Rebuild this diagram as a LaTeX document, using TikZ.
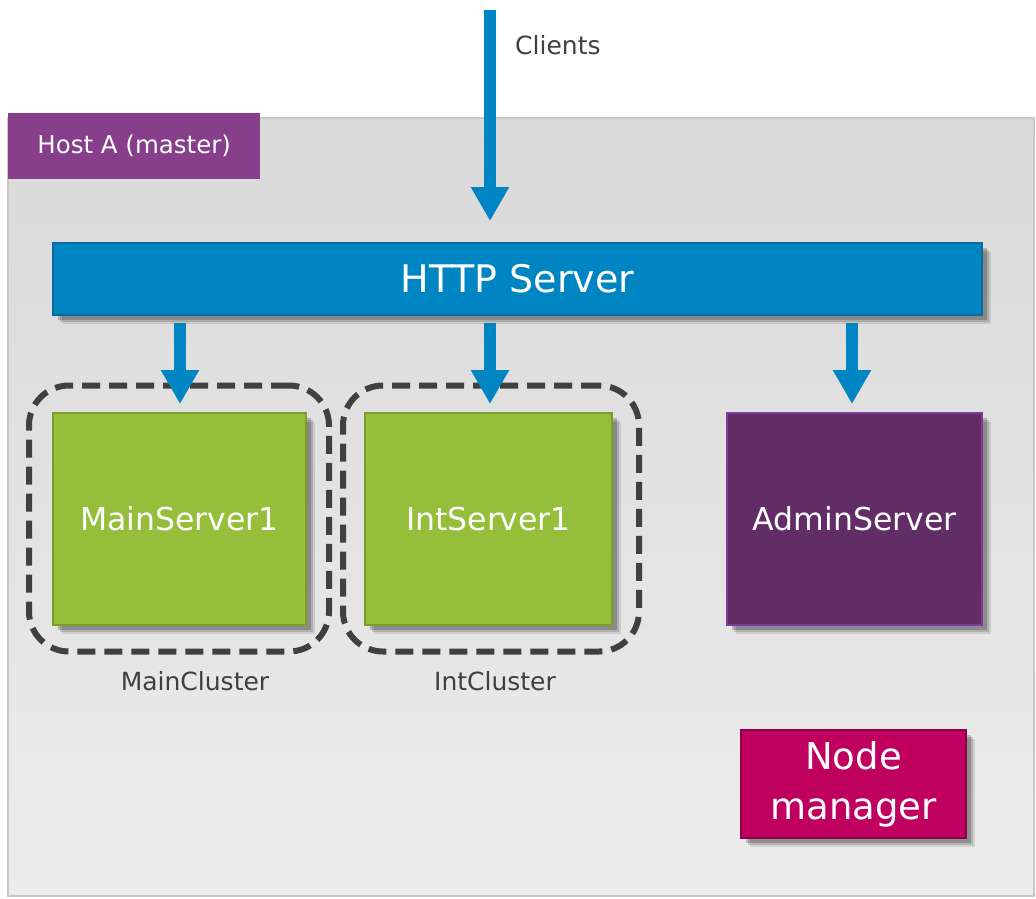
\documentclass[tikz,border=0pt]{standalone}
\usepackage{fontspec}
\setmainfont{DejaVu Sans}
\usetikzlibrary{arrows.meta,shadows}
\definecolor{httpblue}{HTML}{0085C3}
\definecolor{httpborder}{HTML}{0B6A9A}
\definecolor{green1}{HTML}{95BF3A}
\definecolor{green2}{HTML}{7A9E2C}
\definecolor{admin}{HTML}{622C66}
\definecolor{adminb}{HTML}{7B3C9E}
\definecolor{hostp}{HTML}{873E8B}
\definecolor{nodem}{HTML}{C0005E}
\definecolor{nodemb}{HTML}{8E0048}
\definecolor{dgray}{HTML}{404040}
\definecolor{panelb}{HTML}{C8C8C8}
\tikzset{
  x=1pt,y=-1pt,
  shad/.style={
    drop shadow={shadow xshift=9pt,shadow yshift=-9pt,opacity=0.10,fill=black},
    drop shadow={shadow xshift=7pt,shadow yshift=-7pt,opacity=0.15,fill=black},
    drop shadow={shadow xshift=5pt,shadow yshift=-5pt,opacity=0.20,fill=black}},
  srv/.style={shad,rectangle,line width=2pt,inner sep=0pt,text=white,font=\fontsize{31.5}{36}\selectfont},
  greenbox/.style={srv,fill=green1,draw=green2,minimum width=253pt,minimum height=212pt},
  cluster/.style={rectangle,draw=dgray,line width=6pt,dash pattern=on 18pt off 9pt,rounded corners=40pt,inner sep=0pt},
  lbl/.style={text=dgray,font=\fontsize{25}{28}\selectfont,inner sep=0pt},
  arr/.style={draw=httpblue,line width=12pt,-{Triangle[width=36pt,length=34pt]}},
}
\begin{document}
\begin{tikzpicture}
\useasboundingbox (0,0) rectangle (1036,899);
\fill[white] (0,0) rectangle (1036,899);
% panel
\shade[top color={rgb,255:red,217;green,217;blue,217},bottom color={rgb,255:red,236;green,236;blue,236},draw=panelb,line width=1.5pt]
  (8,118) rectangle (1034,896);
% host label
\node[fill=hostp,minimum width=252pt,minimum height=66pt,inner sep=0pt,anchor=north west,text=white,font=\fontsize{24.5}{28}\selectfont] (host) at (8,113) {Host A (master)};
% HTTP server
\node[shad,fill=httpblue,draw=httpborder,line width=2pt,minimum width=929pt,minimum height=72pt,inner sep=0pt,text=white,font=\fontsize{38}{44}\selectfont] (http) at (517.5,279) {HTTP Server};
% clusters
\node[cluster,minimum width=300pt,minimum height=266pt] (mc) at (179,518.5) {};
\node[cluster,minimum width=296pt,minimum height=266pt] (ic) at (491,518.5) {};
% servers
\node[greenbox] (ms) at (179.5,519) {MainServer1};
\node[greenbox,minimum width=247pt] (is) at (488.5,519) {IntServer1};
\node[srv,fill=admin,draw=adminb,minimum width=255pt,minimum height=212pt] (as) at (854.5,519) {AdminServer};
% cluster labels
\node[lbl] (mcl) at (195,681) {MainCluster};
\node[lbl] (icl) at (495,681) {IntCluster};
% node manager
\node[shad,fill=nodem,draw=nodemb,line width=1.5pt,minimum width=225pt,minimum height=108pt,inner sep=0pt,text=white,align=center,font=\fontsize{37}{50}\selectfont] (nm) at (853.5,784) {Node\\manager};
% clients
\coordinate (ctop) at (490,10);
\node[lbl,anchor=west] (cl) at (515,45) {Clients};
\draw[arr,shorten >=21pt] (ctop) -- (ctop |- http.north);
\draw[arr,shorten <=7pt,shorten >=8pt] (http.south -| 180,0) -- (ms.north -| 180,0);
\draw[arr,shorten <=7pt,shorten >=8pt] (http.south -| 490,0) -- (is.north -| 490,0);
\draw[arr,shorten <=7pt,shorten >=8pt] (http.south -| 852,0) -- (as.north -| 852,0);
\end{tikzpicture}
\end{document}
